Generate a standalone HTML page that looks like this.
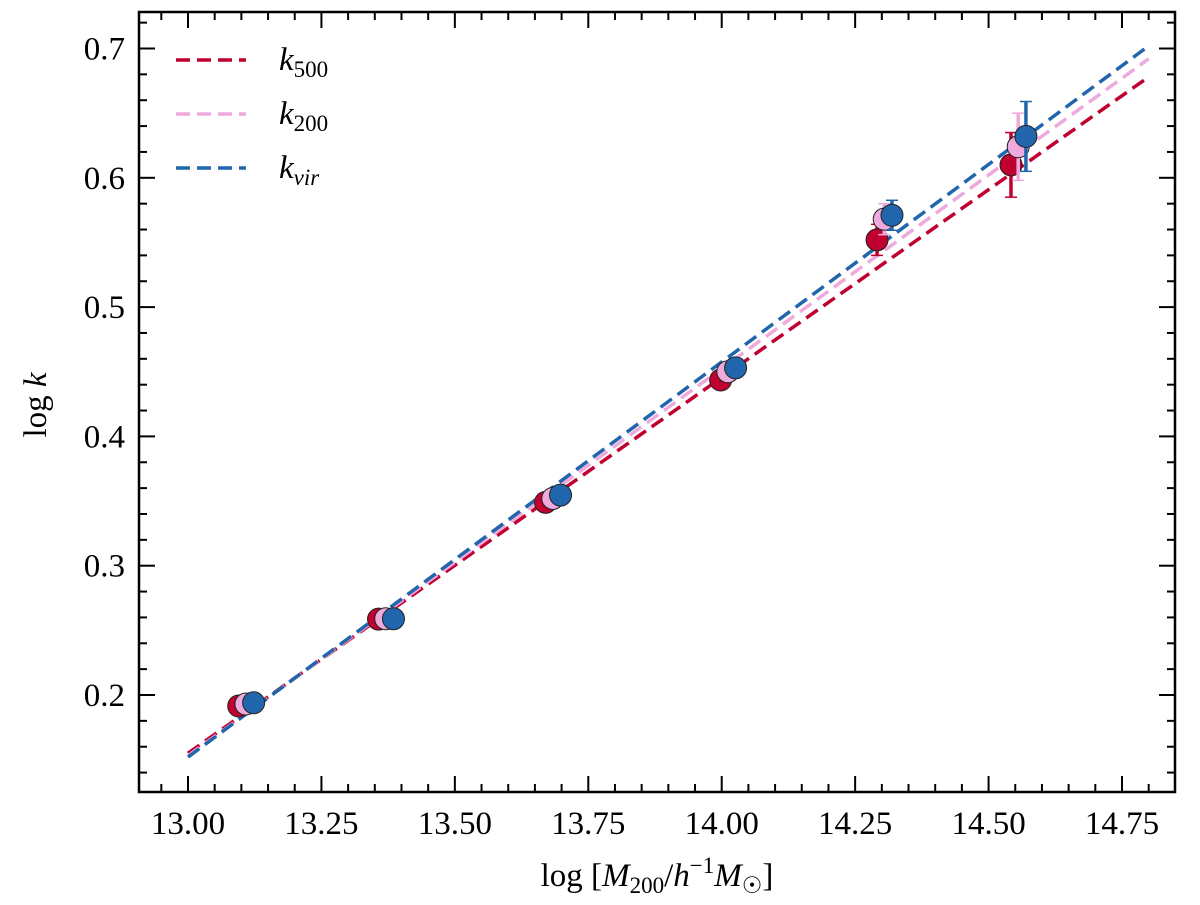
<!DOCTYPE html>
<html><head><meta charset="utf-8"><style>
html,body{margin:0;padding:0;background:#fff;}
svg{display:block;font-family:"Liberation Serif",serif;}
</style></head><body>
<svg id="chart" width="1200" height="905"></svg>
<script>
const massBins = [13.095, 13.357, 13.670, 13.998, 14.291, 14.542];
const k500Vals = [0.1915, 0.2587, 0.349, 0.4436, 0.552, 0.610];
const k500Err = [0.003, 0.003, 0.003, 0.003, 0.012, 0.025];
const k200Vals = [0.193, 0.259, 0.352, 0.450, 0.568, 0.624];
const k200Err = [0.003, 0.003, 0.003, 0.003, 0.012, 0.026];
const kvirVals = [0.194, 0.259, 0.3546, 0.453, 0.571, 0.632];
const kvirErr = [0.003, 0.003, 0.003, 0.003, 0.0116, 0.027];
const fitX = [13.0, 14.8];
const k500Fit = [0.155, 0.678];
const k200Fit = [0.153, 0.692];
const kvirFit = [0.152, 0.702];
const xTicks = [13.00, 13.25, 13.50, 13.75, 14.00, 14.25, 14.50, 14.75];
const xTickLabels = ["13.00","13.25","13.50","13.75","14.00","14.25","14.50","14.75"];
const yTicks = [0.2, 0.3, 0.4, 0.5, 0.6, 0.7];
const yTickLabels = ["0.2","0.3","0.4","0.5","0.6","0.7"];

const NS = "http://www.w3.org/2000/svg";
const svg = document.getElementById('chart');
const L=139, R=1175, T=12, B=792;
function sx(v){ return 188 + (v-13.0)*(934/1.75); }
function sy(v){ return 695 - (v-0.2)*1293; }
function mk(tag, attrs, parent){ const e=document.createElementNS(NS,tag); for(const k in attrs) e.setAttribute(k,attrs[k]); (parent||svg).appendChild(e); return e; }

const defs = mk('defs',{});
const cp = mk('clipPath',{id:'clip'},defs);
mk('rect',{x:L,y:T,width:R-L,height:B-T},cp);

const tickG = mk('g',{stroke:'#000','stroke-width':2});


for(let v=12.95; v<=14.851; v+=0.05){
  const x=sx(v); if(x<L||x>R) continue;
  const major = xTicks.some(t=>Math.abs(t-v)<1e-6);
  const len = major?16:8;
  mk('line',{x1:x,y1:B,x2:x,y2:B-len},tickG);
  mk('line',{x1:x,y1:T,x2:x,y2:T+len},tickG);
}
for(let v=0.14; v<=0.721; v+=0.02){
  const y=sy(v); if(y<T||y>B) continue;
  const major = yTicks.some(t=>Math.abs(t-v)<1e-6);
  const len = major?16:8;
  mk('line',{x1:L,y1:y,x2:L+len,y2:y},tickG);
  mk('line',{x1:R,y1:y,x2:R-len,y2:y},tickG);
}
xTicks.forEach((v,i)=>{
  const t=mk('text',{x:sx(v),y:B+42,'text-anchor':'middle','font-size':33});
  t.textContent=xTickLabels[i];
  
  
});
yTicks.forEach((v,i)=>{
  const t=mk('text',{x:L-14,y:sy(v)+11,'text-anchor':'end','font-size':33});
  t.textContent=yTickLabels[i];
  
  
});

const series=[
  {name:'k500',color:'#c0002f',vals:k500Vals,err:k500Err,fit:k500Fit,dx:0},
  {name:'k200',color:'#eeaadd',vals:k200Vals,err:k200Err,fit:k200Fit,dx:0.0135},
  {name:'kvir',color:'#2166ac',vals:kvirVals,err:kvirErr,fit:kvirFit,dx:0.028}
];
const plotG = mk('g',{'clip-path':'url(#clip)'});
series.forEach(s=>{
  const l=mk('line',{x1:sx(fitX[0]),y1:sy(s.fit[0]),x2:sx(fitX[1]),y2:sy(s.fit[1]),stroke:s.color,'stroke-width':3.5,'stroke-dasharray':'14 7'},plotG);
  
  
});
series.forEach(s=>{
  s.vals.forEach((v,i)=>{
    const x=sx(massBins[i]+s.dx);
    const g=mk('g',{},plotG);
    
    
    mk('line',{x1:x,y1:sy(v+s.err[i]),x2:x,y2:sy(v-s.err[i]),stroke:s.color,'stroke-width':3.5},g);
    mk('line',{x1:x-6,y1:sy(v+s.err[i]),x2:x+6,y2:sy(v+s.err[i]),stroke:s.color,'stroke-width':1.5},g);
    mk('line',{x1:x-6,y1:sy(v-s.err[i]),x2:x+6,y2:sy(v-s.err[i]),stroke:s.color,'stroke-width':1.5},g);
    mk('circle',{cx:x,cy:sy(v),r:11,fill:s.color,stroke:'#222','stroke-width':1},g);
  });
});

const fr=mk('rect',{x:L,y:T,width:R-L,height:B-T,fill:'none',stroke:'#000','stroke-width':2.5});



const leg=mk('g',{});


const subs=['500','200','vir'];
series.forEach((s,i)=>{
  const y=60+i*54;
  const e=mk('g',{},leg);
  
  
  mk('line',{x1:176,y1:y,x2:246,y2:y,stroke:s.color,'stroke-width':3.5,'stroke-dasharray':'14 7'},e);
  const t=mk('text',{x:279,y:y+10,'font-size':33},e);
  t.innerHTML='<tspan font-style="italic">k</tspan><tspan font-size="23" dy="7"'+(i==2?' font-style="italic"':'')+'>'+subs[i]+'</tspan>';
});

const xl=mk('text',{x:657,y:886,'text-anchor':'middle','font-size':33});
xl.innerHTML='log [<tspan font-style="italic">M</tspan><tspan font-size="23" dy="7">200</tspan><tspan dy="-7">/</tspan><tspan font-style="italic">h</tspan><tspan font-size="23" dy="-13">−1</tspan><tspan font-style="italic" dy="13">M</tspan><tspan font-size="23" dy="7">☉</tspan><tspan dy="-7">]</tspan>';


const yl=mk('text',{x:0,y:0,'text-anchor':'middle','font-size':33,transform:'translate(46,405) rotate(-90)'});
yl.innerHTML='log <tspan font-style="italic">k</tspan>';


</script>
</body></html>
